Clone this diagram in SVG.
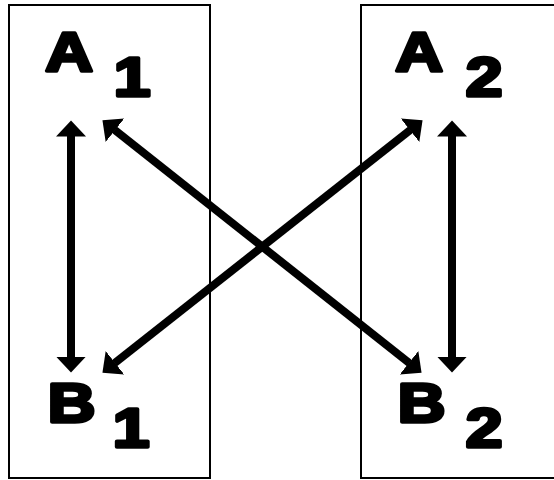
<svg xmlns="http://www.w3.org/2000/svg" width="554" height="480" viewBox="0 0 554 480">
  <style>
    .box { fill: none; stroke: #000; stroke-width: 2; }
    .lbl { font-family: "Liberation Sans", Arial, sans-serif; font-weight: bold; font-size: 55px; fill: #000; stroke: #000; stroke-width: 3.5; stroke-linejoin: round; text-anchor: middle; }
    .arr { fill: none; stroke: #000; stroke-width: 8; marker-start: url(#head); marker-end: url(#head); }
  </style>
  <defs>
    <marker id="head" markerUnits="userSpaceOnUse" markerWidth="18" markerHeight="34" viewBox="0 -17 18 34" refX="0.5" refY="0" orient="auto-start-reverse">
      <path d="M0,-15 L16,0 L0,15 Z" fill="#000"/>
    </marker>
  </defs>
  <g id="group1">
    <rect class="box" x="9" y="5" width="201" height="473"/>
  </g>
  <g id="group2">
    <rect class="box" x="361" y="5" width="200" height="473"/>
  </g>
  <g id="A1">
    <text class="lbl" transform="translate(69,71) scale(1.2,1)">A</text>
    <text class="lbl" transform="translate(132,95.5) scale(1.2,1)">1</text>
  </g>
  <g id="A2">
    <text class="lbl" transform="translate(419,71) scale(1.2,1)">A</text>
    <text class="lbl" transform="translate(484,95.5) scale(1.2,1)">2</text>
  </g>
  <g id="B1">
    <text class="lbl" transform="translate(71.5,421.5) scale(1.2,1)">B</text>
    <text class="lbl" transform="translate(131,446.5) scale(1.2,1)">1</text>
  </g>
  <g id="B2">
    <text class="lbl" transform="translate(421.5,421.5) scale(1.2,1)">B</text>
    <text class="lbl" transform="translate(484,446.5) scale(1.2,1)">2</text>
  </g>
  <g id="connectors">
    <path class="arr" d="M71,136 L71,357"/>
    <path class="arr" d="M452,136 L452,357"/>
    <path class="arr" d="M114.6,129.9 L409.4,363.1"/>
    <path class="arr" d="M410.4,129.9 L114.6,363.1"/>
  </g>
</svg>
